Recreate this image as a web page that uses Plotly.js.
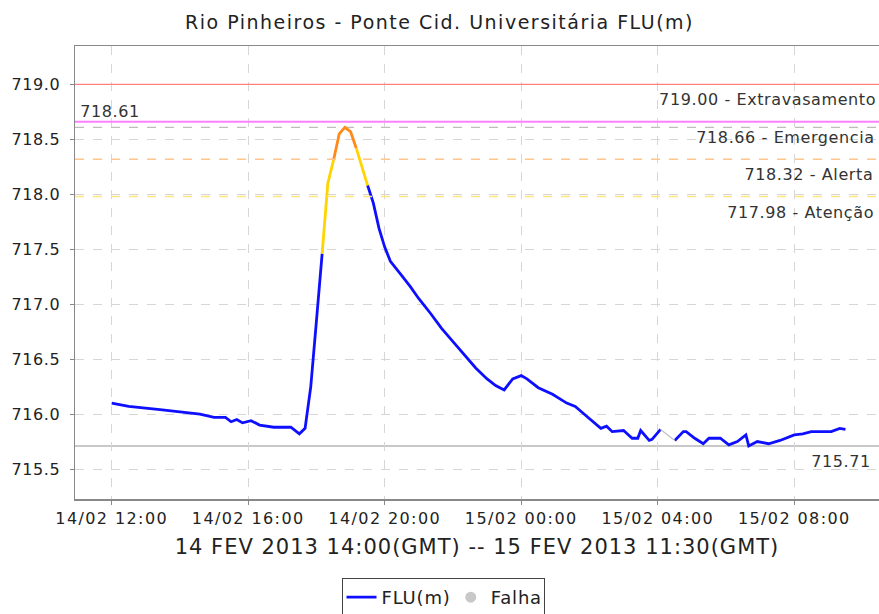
<!DOCTYPE html>
<html>
<head>
<meta charset="utf-8">
<script src="https://cdn.plot.ly/plotly-3.0.1.min.js"></script>
<style>
body{margin:0;background:#fff}
#chart{width:879px;height:614px}
#chart .gtitle{letter-spacing:1.5px}
#chart .xtick text{letter-spacing:1.4px}
#chart .ytick text{letter-spacing:0.6px}
#chart .xtitle{letter-spacing:1px}
#chart .annotation-text{letter-spacing:0.6px}
#chart .legendtext{letter-spacing:0.8px}
</style>
</head>
<body>
<div id="chart"></div>
<script>
// ---- data ----
const times = [
 '2013-02-14 12:00','2013-02-14 12:30','2013-02-14 13:25','2013-02-14 14:05','2013-02-14 14:35',
 '2013-02-14 15:00','2013-02-14 15:20','2013-02-14 15:30','2013-02-14 15:40','2013-02-14 15:50',
 '2013-02-14 16:05','2013-02-14 16:20','2013-02-14 16:45','2013-02-14 17:15','2013-02-14 17:30',
 '2013-02-14 17:40','2013-02-14 17:50','2013-02-14 18:00','2013-02-14 18:10','2013-02-14 18:20',
 '2013-02-14 18:30','2013-02-14 18:40','2013-02-14 18:50','2013-02-14 19:00','2013-02-14 19:10',
 '2013-02-14 19:20','2013-02-14 19:30','2013-02-14 19:40','2013-02-14 19:50','2013-02-14 20:00',
 '2013-02-14 20:10','2013-02-14 20:20','2013-02-14 20:30','2013-02-14 20:45','2013-02-14 21:00',
 '2013-02-14 21:20','2013-02-14 21:40','2013-02-14 22:00','2013-02-14 22:20','2013-02-14 22:40',
 '2013-02-14 23:00','2013-02-14 23:15','2013-02-14 23:30','2013-02-14 23:45','2013-02-15 00:00',
 '2013-02-15 00:10','2013-02-15 00:30','2013-02-15 00:55','2013-02-15 01:20','2013-02-15 01:35',
 '2013-02-15 01:55','2013-02-15 02:20','2013-02-15 02:30','2013-02-15 02:40','2013-02-15 03:00',
 '2013-02-15 03:15','2013-02-15 03:25','2013-02-15 03:30','2013-02-15 03:45','2013-02-15 03:50',
 '2013-02-15 04:05','2013-02-15 04:15','2013-02-15 04:30','2013-02-15 04:45','2013-02-15 04:50',
 '2013-02-15 05:05','2013-02-15 05:20','2013-02-15 05:30','2013-02-15 05:50','2013-02-15 06:05',
 '2013-02-15 06:20','2013-02-15 06:35','2013-02-15 06:40','2013-02-15 06:55','2013-02-15 07:05',
 '2013-02-15 07:15','2013-02-15 07:35','2013-02-15 08:00','2013-02-15 08:15','2013-02-15 08:30',
 '2013-02-15 08:50','2013-02-15 09:05','2013-02-15 09:20','2013-02-15 09:30'
];
const values = [
 716.10,716.07,716.04,716.02,716.00,
 715.97,715.97,715.93,715.95,715.92,
 715.94,715.90,715.88,715.88,715.82,
 715.87,716.25,716.85,717.46,718.10,
 718.31,718.55,718.61,718.57,718.42,
 718.25,718.08,717.92,717.69,717.52,
 717.39,717.32,717.26,717.16,717.05,
 716.92,716.78,716.66,716.54,716.42,
 716.32,716.26,716.22,716.32,716.35,
 716.32,716.24,716.18,716.10,716.07,
 715.98,715.87,715.89,715.84,715.85,
 715.78,715.78,715.85,715.76,715.77,
 715.86,null,715.76,715.84,715.84,
 715.78,715.73,715.78,715.78,715.72,
 715.75,715.81,715.71,715.75,715.74,
 715.73,715.76,715.81,715.82,715.84,
 715.84,715.84,715.87,715.86
];
const falhaTimes = ['2013-02-15 04:05','2013-02-15 04:30'];
const falhaValues = [715.86, 715.76];

const levelValues = [719.00, 718.66, 718.32, 717.98];
const levelNames = ['Extravasamento', 'Emergencia', 'Alerta', 'Atenção'];
const maxValue = 718.61;
const minValue = 715.71;

const tickTimes = ['2013-02-14 12:00','2013-02-14 16:00','2013-02-14 20:00','2013-02-15 00:00','2013-02-15 04:00','2013-02-15 08:00'];
const tickLabels = ['14/02 12:00','14/02 16:00','14/02 20:00','15/02 00:00','15/02 04:00','15/02 08:00'];

const titleText = 'Rio Pinheiros - Ponte Cid. Universitária FLU(m)';
const xTitleText = '14 FEV 2013 14:00(GMT) -- 15 FEV 2013 11:30(GMT)';

// ---- styles ----
const BLUE = '#0f0fff', YELLOW = '#ffd400', ORANGE = '#ff8a1a';
const levelColors = ['#ff7f7f', '#ff80ff', '#ffc58a', '#ffe680'];
const levelDash = ['solid', 'solid', 'dash', 'dash'];
const levelWidth = [1.2, 2, 1.5, 1.5];
const FONT = 'DejaVu Sans, sans-serif';

function colorFor(v) {
  if (v >= levelValues[2]) return ORANGE;
  if (v >= levelValues[3]) return YELLOW;
  return BLUE;
}

// Build runs of consecutive segments with the same colour (colour by segment end value)
const runs = [];
let cur = null;
for (let i = 0; i < values.length - 1; i++) {
  const a = values[i], b = values[i + 1];
  if (a == null || b == null) { cur = null; continue; }
  const c = colorFor(b);
  if (cur && cur.color === c && cur.last === i) {
    cur.x.push(times[i + 1]); cur.y.push(b); cur.last = i + 1;
  } else {
    cur = {color: c, x: [times[i], times[i + 1]], y: [a, b], last: i + 1};
    runs.push(cur);
  }
}

const traces = [];
let legendShown = false;
runs.forEach(r => {
  const isBlue = r.color === BLUE;
  const show = isBlue && !legendShown;
  if (show) legendShown = true;
  traces.push({
    type: 'scatter', mode: 'lines', x: r.x, y: r.y,
    name: 'FLU(m)', legendgroup: 'flu', showlegend: show,
    line: {color: r.color, width: 2.8},
    hoverinfo: 'x+y'
  });
});
traces.push({
  type: 'scatter', mode: 'lines', x: falhaTimes, y: falhaValues,
  name: 'Falha', legendgroup: 'falha', showlegend: false,
  line: {color: '#c0c0c0', width: 1.2}
});
traces.push({
  type: 'scatter', mode: 'markers', x: [null], y: [null],
  name: 'Falha', legendgroup: 'falha', showlegend: true,
  marker: {color: '#c8c8c8', size: 11, symbol: 'circle'}
});

const shapes = [];
const annotations = [];
levelValues.forEach((v, i) => {
  shapes.push({type: 'line', xref: 'paper', x0: 0, x1: 1, yref: 'y', y0: v, y1: v,
    line: {color: levelColors[i], width: levelWidth[i], dash: levelDash[i]}, layer: 'above'});
  annotations.push({xref: 'paper', x: 0.99, xanchor: 'right', yref: 'y', y: v, yanchor: 'top', yshift: -4,
    text: v.toFixed(2) + ' - ' + levelNames[i], showarrow: false,
    font: {family: FONT, size: 16, color: '#333'}});
});
shapes.push({type: 'line', xref: 'paper', x0: 0, x1: 1, yref: 'y', y0: maxValue, y1: maxValue,
  line: {color: '#bdbdbd', width: 1.2, dash: 'dash'}, layer: 'below'});
annotations.push({xref: 'paper', x: 0.006, xanchor: 'left', yref: 'y', y: maxValue, yanchor: 'bottom', yshift: 4,
  text: maxValue.toFixed(2), showarrow: false, font: {family: FONT, size: 16, color: '#333'}});
shapes.push({type: 'line', xref: 'paper', x0: 0, x1: 1, yref: 'y', y0: minValue, y1: minValue,
  line: {color: '#c8c8c8', width: 2}, layer: 'below'});
annotations.push({xref: 'paper', x: 0.99, xanchor: 'right', yref: 'y', y: minValue, yanchor: 'top', yshift: -4,
  text: minValue.toFixed(2), showarrow: false, font: {family: FONT, size: 16, color: '#333'}});

const layout = {
  width: 879, height: 614,
  margin: {l: 75, r: 0, t: 46, b: 115},
  paper_bgcolor: '#fff', plot_bgcolor: '#fff',
  font: {family: FONT, color: '#222', size: 16},
  title: {text: titleText, x: 0.5, xref: 'container', xanchor: 'center',
    y: 1 - 22 / 614, yref: 'container', yanchor: 'middle',
    font: {family: FONT, size: 19, color: '#222'}},
  xaxis: {
    type: 'date',
    range: ['2013-02-14 10:55:30', '2013-02-15 10:29'],
    tickmode: 'array', tickvals: tickTimes, ticktext: tickLabels,
    ticks: 'outside', ticklen: 4, tickcolor: '#888',
    showgrid: true, gridcolor: '#d6d6d6', griddash: 'dash', gridwidth: 1,
    showline: true, linecolor: '#888', linewidth: 1.5, mirror: true,
    zeroline: false,
    tickfont: {family: FONT, size: 16, color: '#222'},
    title: {text: xTitleText, font: {family: FONT, size: 21, color: '#222'}, standoff: 12}
  },
  yaxis: {
    range: [715.227, 719.35],
    tickvals: [715.5, 716.0, 716.5, 717.0, 717.5, 718.0, 718.5, 719.0],
    tickformat: '.1f',
    ticks: 'outside', ticklen: 4, tickcolor: '#888',
    showgrid: true, gridcolor: '#d6d6d6', griddash: 'dash', gridwidth: 1,
    showline: true, linecolor: '#888', linewidth: 1.5,
    zeroline: false,
    ticklabelstandoff: 6,
    tickfont: {family: FONT, size: 16, color: '#222'}
  },
  showlegend: true,
  legend: {
    orientation: 'h', xref: 'container', yref: 'container',
    x: 443 / 879, xanchor: 'center', y: 1 - 578 / 614, yanchor: 'top',
    bordercolor: '#444', borderwidth: 1, bgcolor: '#fff',
    font: {family: FONT, size: 18, color: '#222'},
    itemwidth: 30, tracegroupgap: 0
  },
  shapes: shapes,
  annotations: annotations
};

Plotly.newPlot('chart', traces, layout, {displayModeBar: false, staticPlot: true});
</script>
</body>
</html>
